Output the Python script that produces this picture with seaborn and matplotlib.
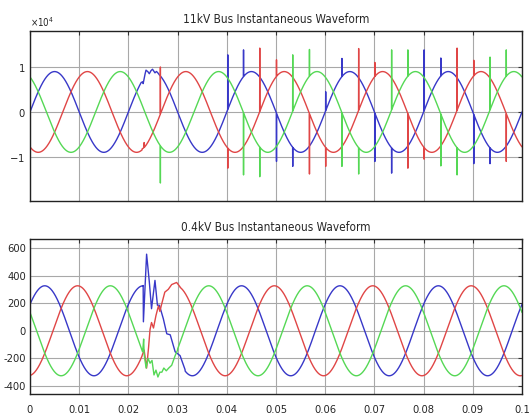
import numpy as np
import pandas as pd
import matplotlib
matplotlib.use('Agg')
import matplotlib.pyplot as plt
import seaborn as sns
from matplotlib import font_manager

# scope settings
freq = 50.0
phases = ['A', 'B', 'C']
phase_colors = {'A': '#3838c8', 'B': '#e04646', 'C': '#55d855'}

# 11kV bus: peak volts and phase angle (deg) at t=0
hv_peak = 8980
hv_angle = [0, -120, 120]
# 0.4kV bus
lv_peak = 326
lv_angle = [36, -84, 156]

# 11kV fault disturbance (time s, volts)
hv_a_fault_t = [0.0226, 0.0229, 0.0230, 0.0234, 0.02358, 0.0240, 0.02425, 0.0246, 0.0249, 0.0252, 0.0254, 0.0257, 0.0259, 0.0262]
hv_a_fault_v = [6560, 6700, 6300, 8500, 9300, 8900, 8500, 9200, 9500, 9000, 8700, 9000, 8800, 8400]
hv_b_fault_t = [0.0228, 0.0231, 0.0232, 0.0233, 0.0236]
hv_b_fault_v = [-8200, -8000, -6800, -7800, -7400]

# 11kV commutation spikes: time, phase going up / down and spike tip (volts)
hv_spike_t = [0.0265, 0.0402, 0.0434, 0.0467, 0.0501, 0.0534, 0.0568, 0.0601, 0.0634, 0.0668,
              0.0701, 0.0735, 0.0768, 0.0801, 0.0835, 0.0868, 0.0902, 0.0935, 0.0968]
hv_spike_up = ['B', 'A', 'A', 'B', 'B', 'C', 'C', 'A', 'A', 'B',
               'B', 'C', 'C', 'A', 'A', 'B', 'B', 'C', 'C']
hv_spike_up_v = [10000, 12700, 13800, 14200, 11600, 12700, 13900, 4500, 11900, 14100,
                 11000, 13800, 13800, 13800, 12000, 14200, 11500, 12200, 13800]
hv_spike_dn = ['C', 'B', 'C', 'C', 'A', 'A', 'B', 'B', 'C', 'C',
               'A', 'A', 'B', 'B', 'C', 'C', 'A', 'A', 'B']
hv_spike_dn_v = [-15800, -12500, -14000, -14400, -11000, -12100, -13800, -12100, -12100, -13800,
                 -11000, -13600, -12500, -10500, -12000, -14000, -11500, -11500, -11000]

# 0.4kV fault disturbance (time s, volts)
lv_a_fault_t = [0.0230, 0.02305, 0.0234, 0.0237, 0.02425, 0.0247, 0.0254, 0.0259, 0.0263, 0.0271,
                0.0278, 0.0285, 0.0295, 0.0305, 0.0315]
lv_a_fault_v = [328, 65, 330, 555, 355, 160, 365, 185, 185, 87,
                -22, -29, -152, -180, -280]
lv_b_fault_t = [0.0228, 0.0232, 0.0237, 0.0241, 0.0244, 0.0247, 0.0251, 0.0256, 0.0261, 0.0264,
                0.0267, 0.0274, 0.0281, 0.0288, 0.0298, 0.0305]
lv_b_fault_v = [-178, -140, -270, -120, 10, 60, 20, 110, 180, 140,
                185, 280, 300, 335, 350, 318]
lv_c_fault_t = [0.0229, 0.0231, 0.0232, 0.0236, 0.0240, 0.0244, 0.0248, 0.0252, 0.0256, 0.0260,
                0.0264, 0.0268, 0.0272, 0.0277, 0.0282, 0.0288, 0.0295, 0.0300]
lv_c_fault_v = [-150, -60, -170, -270, -200, -235, -215, -320, -285, -335,
                -300, -300, -270, -290, -270, -250, -180, -140]

x_ticks = [0, 0.01, 0.02, 0.03, 0.04, 0.05, 0.06, 0.07, 0.08, 0.09, 0.1]


def trace(peak, angle, fault_t=None, fault_v=None, spikes=()):
    t = np.linspace(0, 0.1, 4001)
    v = peak * np.sin(2 * np.pi * freq * t + np.deg2rad(angle))
    for ts, vs in spikes:
        v[np.argmin(np.abs(t - ts))] = vs
    if fault_t:
        keep = (t < fault_t[0]) | (t > fault_t[-1])
        t = np.concatenate([t[keep], fault_t])
        v = np.concatenate([v[keep], fault_v])
        order = np.argsort(t, kind='stable')
        t, v = t[order], v[order]
    return t, v


def frame(peak, angles, faults, spikes):
    parts = []
    for ph, ang in zip(phases, angles):
        ft, fv = faults.get(ph, (None, None))
        t, v = trace(peak, ang, ft, fv, spikes.get(ph, []))
        parts.append(pd.DataFrame({'time': t, 'voltage': v, 'phase': ph}))
    return pd.concat(parts, ignore_index=True)


hv_spikes = {p: [] for p in phases}
for ts, pu, vu, pd_, vd in zip(hv_spike_t, hv_spike_up, hv_spike_up_v, hv_spike_dn, hv_spike_dn_v):
    hv_spikes[pu].append((ts, vu))
    hv_spikes[pd_].append((ts, vd))

hv = frame(hv_peak, hv_angle,
           {'A': (hv_a_fault_t, hv_a_fault_v), 'B': (hv_b_fault_t, hv_b_fault_v)},
           hv_spikes)
lv = frame(lv_peak, lv_angle,
           {'A': (lv_a_fault_t, lv_a_fault_v), 'B': (lv_b_fault_t, lv_b_fault_v),
            'C': (lv_c_fault_t, lv_c_fault_v)},
           {})

sns.set_style('white')
names = {f.name for f in font_manager.fontManager.ttflist}
fam = 'Liberation Sans Narrow' if 'Liberation Sans Narrow' in names else 'DejaVu Sans'
plt.rcParams['font.family'] = [fam, 'DejaVu Sans']
plt.rcParams['font.stretch'] = 'condensed'
plt.rcParams['axes.unicode_minus'] = False

fig = plt.figure(figsize=(5.29, 4.19), dpi=100)
ax1 = fig.add_axes([0.0567, 0.5203, 0.9301, 0.4057])
ax2 = fig.add_axes([0.0567, 0.0597, 0.9301, 0.3699])

for ax, df in [(ax1, hv), (ax2, lv)]:
    sns.lineplot(data=df, x='time', y='voltage', hue='phase', hue_order=phases,
                 palette=phase_colors, estimator=None, sort=False, legend=False,
                 linewidth=1.0, ax=ax)
    ax.set_xlim(0, 0.1)
    ax.set_xticks(x_ticks)
    ax.grid(True, color='#a8a8a8', linewidth=0.8)
    ax.set_xlabel('')
    ax.set_ylabel('')
    ax.tick_params(direction='in', top=True, right=True, length=3, labelsize=8, color='#333333')
    for s in ax.spines.values():
        s.set_color('#222222')
        s.set_linewidth(1.0)

ax1.set_ylim(-19800, 18000)
ax1.set_yticks([-10000, 0, 10000])
ax1.ticklabel_format(axis='y', style='sci', scilimits=(0, 0), useMathText=True)
ax1.yaxis.get_offset_text().set_fontsize(7)
ax1.set_xticklabels([])
ax1.set_title('11kV Bus Instantaneous Waveform', fontsize=8.5, pad=6)

ax2.set_ylim(-458, 665)
ax2.set_yticks([-400, -200, 0, 200, 400, 600])
ax2.set_xticklabels(['%g' % x for x in x_ticks])
ax2.tick_params(axis='x', pad=8)
ax2.tick_params(axis='y', pad=3)
ax2.set_title('0.4kV Bus Instantaneous Waveform', fontsize=8.5, pad=6)

fig.savefig('out.png', dpi=100)
